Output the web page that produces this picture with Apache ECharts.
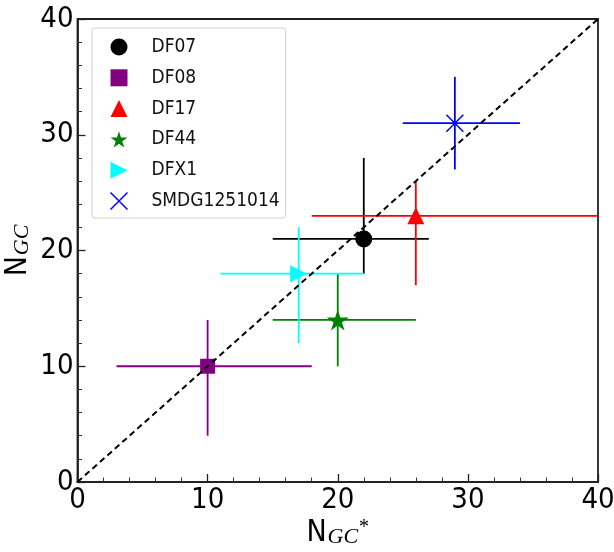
<!DOCTYPE html>
<html>
<head>
<meta charset="utf-8">
<script src="https://cdn.jsdelivr.net/npm/echarts@6/dist/echarts.min.js"></script>
<style>
  html, body { margin: 0; padding: 0; background: #fff; }
  #chart { width: 614px; height: 552px; }
</style>
</head>
<body>
<div id="chart"></div>
<script>
// Globular-cluster counts: two estimates per galaxy with asymmetric error bars
const galaxies = ['DF07', 'DF08', 'DF17', 'DF44', 'DFX1', 'SMDG1251014'];
const ngcStar = [22, 10, 26, 20, 17, 29];      // x value
const ngc = [21, 10, 23, 14, 18, 31];          // y value
const ngcStarLow = [15, 3, 18, 15, 11, 25];
const ngcStarHigh = [27, 18, 42, 26, 22, 34];
const ngcLow = [18, 4, 17, 10, 12, 27];
const ngcHigh = [28, 14, 26, 18, 22, 35];
const axisTicks = [0, 10, 20, 30, 40];
const oneToOne = [[0, 0], [40, 40]];

const colors = ['#000000', '#800080', '#ff0000', '#008000', '#00ffff', '#0000ff'];
const starPath = 'path://M10,0 L12.245,6.910 L19.511,6.910 L13.633,11.180 L15.878,18.090 L10,13.82 L4.122,18.090 L6.367,11.180 L0.489,6.910 L7.755,6.910 Z';
const symbols = ['circle', 'rect', 'triangle', starPath, 'path://M0,0 L10,5 L0,10 Z', 'path://M0,0 L10,10 M10,0 L0,10'];
const sizes = [17, 15, 17, 22, 17, 17];

const NUM_FONT = "'DejaVu Sans Condensed', 'Liberation Sans', sans-serif";
const SUB_FONT = "'Liberation Serif', 'DejaVu Serif', serif";

const chart = echarts.init(document.getElementById('chart'), null, { renderer: 'canvas' });

function errorBars(i) {
  return {
    type: 'custom',
    name: galaxies[i] + ' errors',
    z: 2,
    data: [[ngcStar[i], ngc[i], ngcStarLow[i], ngcStarHigh[i], ngcLow[i], ngcHigh[i]]],
    renderItem: function (params, api) {
      const cs = params.coordSys;
      const clampX = v => Math.max(cs.x, Math.min(cs.x + cs.width, v));
      const clampY = v => Math.max(cs.y, Math.min(cs.y + cs.height, v));
      const c = api.coord([api.value(0), api.value(1)]);
      const xl = api.coord([api.value(2), api.value(1)]);
      const xh = api.coord([api.value(3), api.value(1)]);
      const yl = api.coord([api.value(0), api.value(4)]);
      const yh = api.coord([api.value(0), api.value(5)]);
      const style = { stroke: colors[i], lineWidth: 1.8 };
      return {
        type: 'group',
        children: [
          { type: 'line', shape: { x1: clampX(xl[0]), y1: c[1], x2: clampX(xh[0]), y2: c[1] }, style: style },
          { type: 'line', shape: { x1: c[0], y1: clampY(yl[1]), x2: c[0], y2: clampY(yh[1]) }, style: style }
        ]
      };
    }
  };
}

function markers(i) {
  const isCross = i === 5;
  return {
    type: 'scatter',
    name: galaxies[i],
    z: 3,
    symbol: symbols[i],
    symbolSize: sizes[i],
    symbolKeepAspect: true,
    data: [[ngcStar[i], ngc[i]]],
    itemStyle: isCross
      ? { color: 'none', borderColor: colors[i], borderWidth: 1.5, opacity: 1 }
      : { color: colors[i], opacity: 1 },
    emphasis: { disabled: true }
  };
}

const series = [];
galaxies.forEach((g, i) => series.push(errorBars(i)));
galaxies.forEach((g, i) => series.push(markers(i)));
series.push({
  type: 'line',
  name: '1:1',
  z: 4,
  data: oneToOne,
  symbol: 'none',
  silent: true,
  lineStyle: { color: '#000', width: 2, type: [6, 4] }
});

const axisCommon = {
  type: 'value',
  min: axisTicks[0],
  max: axisTicks[axisTicks.length - 1],
  interval: axisTicks[1] - axisTicks[0],
  axisLine: { show: true, onZero: false, lineStyle: { color: '#222', width: 1.8 } },
  axisTick: { show: true, inside: true, length: 8, lineStyle: { color: '#222', width: 1.3 } },
  minorTick: { show: true, splitNumber: 5, length: 4.5, lineStyle: { color: '#333', width: 1 } },
  splitLine: { show: false },
  axisLabel: { color: '#000', fontSize: 29, fontFamily: NUM_FONT, margin: 4 },
  nameLocation: 'middle',
  nameMoveOverlap: false
};

const nameRich = {
  n: { fontSize: 30, fontFamily: NUM_FONT, color: '#000', lineHeight: 30, verticalAlign: 'top' },
  s: { fontSize: 22, fontFamily: SUB_FONT, fontStyle: 'italic', color: '#000', lineHeight: 22, padding: [12, 0, 0, 1], verticalAlign: 'bottom' },
  p: { fontSize: 20, fontFamily: SUB_FONT, color: '#000', lineHeight: 20, padding: [0, 0, 0, 1], verticalAlign: 'top' }
};

chart.setOption({
  animation: false,
  backgroundColor: '#fff',
  grid: {
    left: 77.5, right: 16, top: 19, bottom: 70,
    containLabel: false,
    outerBoundsMode: 'none',
    show: true, borderColor: '#222', borderWidth: 1.8, backgroundColor: 'transparent'
  },
  xAxis: Object.assign({}, axisCommon, {
    name: '{n|N}{s|GC}{p|*}',
    nameGap: 36,
    nameTextStyle: { rich: nameRich }
  }),
  yAxis: Object.assign({}, axisCommon, {
    name: '{n|N}{s|GC}',
    nameGap: 44,
    nameRotate: 90,
    nameTextStyle: { rich: nameRich }
  }),
  legend: {
    orient: 'vertical',
    left: 92,
    top: 28,
    padding: [8, 6, 6, 16],
    itemGap: 8.8,
    itemWidth: 17,
    itemHeight: 17,
    backgroundColor: '#fff',
    borderColor: '#d0d0d0',
    borderWidth: 1,
    borderRadius: 3,
    selectedMode: false,
    textStyle: { fontSize: 19, fontFamily: NUM_FONT, color: '#111', lineHeight: 22, padding: [0, 0, 0, 19] },
    data: galaxies.map((g, i) => ({
      name: g,
      icon: symbols[i],
      itemStyle: i === 5
        ? { color: 'none', borderColor: colors[i], borderWidth: 1.5 }
        : { color: colors[i], borderWidth: 0 }
    }))
  },
  series: series
});
</script>
</body>
</html>
